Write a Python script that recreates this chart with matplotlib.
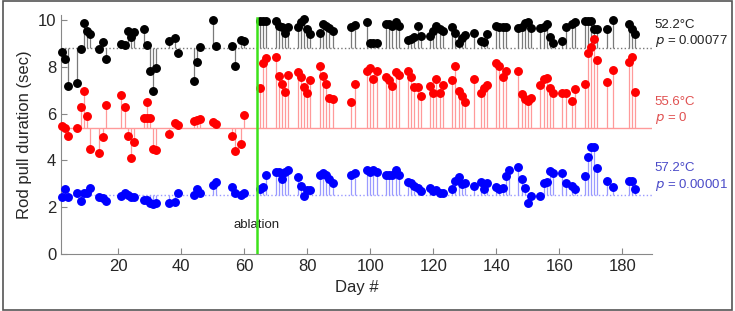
import matplotlib.pyplot as plt
from matplotlib.patches import Rectangle

# day numbers and rod pull duration (sec) for each temperature
black_days = [2, 3, 4, 7, 8, 9, 10, 11, 14, 15, 16, 21, 22, 23, 24, 25, 28, 29, 30, 31, 32, 36, 38, 39,
              44, 45, 46, 50, 51, 56, 57, 59, 60,
              65, 66, 67, 70, 71, 72, 73, 74, 77, 78, 79, 80, 81, 84, 85, 86, 87, 88, 94, 95, 99, 100,
              101, 102, 105, 106, 107, 108, 109, 112, 113, 114, 115, 116, 119, 120, 121, 122, 123, 126,
              127, 128, 129, 130, 133, 135, 136, 137, 140, 141, 142, 143, 147, 148, 149, 150, 151, 154,
              155, 156, 157, 158, 161, 162, 164, 165, 168, 169, 170, 171, 172, 175, 177, 182, 183, 184]
black_vals = [8.65, 8.32, 7.18, 7.29, 8.75, 9.86, 9.54, 9.40, 8.77, 9.05, 8.32, 8.96, 8.92, 9.53, 9.29,
              9.47, 9.60, 8.92, 7.82, 6.98, 7.93, 9.09, 9.23, 8.58, 7.41, 8.19, 8.83, 10.0, 8.89, 8.89,
              8.03, 9.15, 9.09,
              9.97, 9.97, 9.97, 9.97, 9.74, 9.69, 9.46, 9.69, 9.69, 9.93, 10.03, 9.60, 9.39, 9.43, 9.83,
              9.74, 9.64, 9.54, 9.69, 9.77, 9.91, 9.02, 9.02, 9.02, 9.83, 9.83, 9.76, 9.91, 9.76, 9.15,
              9.17, 9.26, 9.72, 9.32, 9.32, 9.54, 9.74, 9.60, 9.54, 9.69, 9.46, 9.03, 9.21, 9.36, 9.43,
              9.12, 9.07, 9.40, 9.74, 9.69, 9.69, 9.69, 9.64, 9.69, 9.88, 9.91, 9.64, 9.64, 9.69, 9.83,
              9.26, 9.03, 9.12, 9.69, 9.83, 9.91, 9.95, 9.97, 9.97, 9.60, 9.60, 9.60, 10.0, 9.83, 9.60,
              9.40]

red_days = [2, 3, 4, 7, 8, 9, 10, 11, 14, 15, 16, 21, 22, 23, 24, 25, 28, 29, 29, 30, 31, 32, 36, 38,
            39, 44, 45, 46, 50, 51, 56, 57, 59, 60,
            65, 66, 67, 70, 71, 72, 73, 74, 77, 78, 79, 80, 81, 84, 85, 86, 87, 88, 94, 95, 99, 100,
            101, 102, 105, 106, 107, 108, 109, 112, 113, 114, 115, 116, 119, 120, 121, 122, 123, 126,
            127, 128, 129, 130, 133, 135, 136, 137, 140, 141, 142, 143, 147, 148, 149, 150, 151, 154,
            155, 156, 157, 158, 161, 162, 164, 165, 168, 169, 170, 171, 172, 175, 177, 182, 183, 184]
red_vals = [5.47, 5.37, 5.04, 5.38, 6.27, 6.98, 5.91, 4.49, 4.30, 4.99, 6.35, 6.81, 6.27, 5.06, 4.09,
            4.80, 5.80, 6.50, 5.80, 5.80, 4.47, 4.44, 5.11, 5.58, 5.51, 5.70, 5.73, 5.78, 5.62, 5.55,
            5.04, 4.40, 4.70, 5.94,
            7.08, 8.15, 8.36, 8.40, 7.61, 7.26, 6.94, 7.65, 7.79, 7.55, 7.12, 6.89, 7.44, 8.05, 7.61,
            7.26, 6.65, 6.61, 6.51, 7.26, 7.83, 7.93, 7.46, 7.83, 7.55, 7.44, 7.18, 7.79, 7.65, 7.83,
            7.55, 7.12, 7.12, 6.75, 7.18, 6.89, 7.46, 6.89, 7.22, 7.44, 8.05, 6.98, 6.75, 6.51, 7.46,
            6.87, 7.08, 7.22, 8.18, 8.03, 7.55, 7.83, 7.83, 6.84, 6.61, 6.55, 6.65, 7.22, 7.46, 7.50,
            7.08, 6.89, 6.89, 6.87, 6.55, 7.04, 7.26, 8.58, 8.86, 9.17, 8.29, 7.36, 7.88, 8.22, 8.43,
            6.94]

blue_days = [2, 3, 4, 7, 8, 9, 10, 11, 14, 15, 16, 21, 22, 23, 24, 25, 28, 29, 30, 31, 32, 36, 38, 39,
             44, 45, 46, 50, 51, 56, 57, 59, 60,
             65, 66, 67, 70, 71, 72, 73, 74, 77, 78, 79, 80, 81, 84, 85, 86, 87, 88, 94, 95, 99, 100,
             101, 102, 105, 106, 107, 108, 109, 112, 113, 114, 115, 116, 119, 120, 121, 122, 123, 126,
             127, 128, 129, 130, 133, 135, 136, 137, 140, 141, 142, 143, 144, 147, 148, 149, 150, 151,
             154, 155, 156, 157, 158, 161, 162, 164, 165, 168, 169, 170, 171, 172, 175, 177, 182, 183,
             184]
blue_vals = [2.42, 2.76, 2.42, 2.62, 2.28, 2.62, 2.62, 2.81, 2.45, 2.38, 2.28, 2.48, 2.62, 2.52, 2.42,
             2.42, 2.31, 2.31, 2.19, 2.16, 2.19, 2.19, 2.21, 2.62, 2.52, 2.76, 2.62, 2.95, 3.09, 2.88,
             2.62, 2.52, 2.62,
             2.76, 2.86, 3.38, 3.52, 3.52, 3.19, 3.52, 3.59, 3.28, 2.91, 2.48, 2.74, 2.74, 3.38, 3.47,
             3.38, 3.19, 3.02, 3.38, 3.47, 3.59, 3.52, 3.59, 3.52, 3.38, 3.38, 3.38, 3.59, 3.38, 3.09,
             3.02, 2.91, 2.81, 2.71, 2.81, 2.71, 2.74, 2.62, 2.62, 2.76, 3.13, 3.30, 2.99, 3.02, 2.91,
             3.09, 2.76, 3.05, 2.85, 2.76, 2.81, 3.33, 3.59, 3.70, 3.19, 2.81, 2.19, 2.48, 2.48, 3.05,
             3.09, 3.56, 3.47, 3.47, 3.02, 2.91, 2.76, 3.33, 4.16, 4.59, 4.59, 3.66, 3.13, 2.85, 3.13,
             3.10, 2.76]

# baseline (pre-ablation mean) for each series
baselines = [8.78, 5.40, 2.53]
temps = ["52.2\u00b0C", "55.6\u00b0C", "57.2\u00b0C"]
pvals = ["0.00077", "0", "0.00001"]
ablation_day = 64

plt.rcParams['font.family'] = ['Liberation Sans', 'DejaVu Sans']

fig = plt.figure(figsize=(7.35, 3.11), dpi=100)
ax = fig.add_axes([0.083, 0.183, 0.804, 0.768])

series = [
    (black_days, black_vals, "black", "#7a7a7a", "#777777", ":", "#222222"),
    (red_days, red_vals, "#ff0000", "#ff9a9a", "#ff9a9a", "-", "#e05050"),
    (blue_days, blue_vals, "#0000ff", "#9a9aff", "#9a9aff", ":", "#4a4ac8"),
]
label_y = [(9.79, 9.12), (6.51, 5.83), (3.68, 2.97)]

for i, (d, v, mc, sc, bc, bls, tc) in enumerate(series):
    base = baselines[i]
    ax.axhline(base, color=bc, lw=1.0, ls=bls, zorder=1)
    ax.vlines(d, base, v, color=sc, lw=0.9, zorder=2)
    ax.plot(d, v, "o", color=mc, ms=5.4, zorder=3, clip_on=False)
    ax.text(1.005, label_y[i][0], temps[i], transform=ax.get_yaxis_transform(),
            color=tc, fontsize=9.5, va="center", ha="left")
    ax.text(1.005, label_y[i][1], r"$\it{p}$ = " + pvals[i], transform=ax.get_yaxis_transform(),
            color=tc, fontsize=9.5, va="center", ha="left")

ax.plot([ablation_day, ablation_day], [0, 10.1], color="#3de21a", lw=1.8, zorder=4)
ax.text(ablation_day, 1.25, "ablation", ha="center", va="center", fontsize=9.5, color="#222222")

ax.set_xlim(1.8, 189.4)
ax.set_ylim(0, 10.2)
ax.set_xticks([20, 40, 60, 80, 100, 120, 140, 160, 180])
ax.set_yticks([0, 2, 4, 6, 8, 10])
ax.spines["top"].set_visible(False)
ax.spines["right"].set_visible(False)
for s in ["left", "bottom"]:
    ax.spines[s].set_color("#888888")
ax.tick_params(direction="in", length=4, colors="#888888", labelcolor="#262626", labelsize=12)
ax.set_xlabel("Day #", fontsize=12, color="#262626")
ax.set_ylabel("Rod pull duration (sec)", fontsize=12, color="#262626")

fig.patches.append(Rectangle((0.004, 0.004), 0.992, 0.992, transform=fig.transFigure,
                             fill=False, edgecolor="#555555", lw=1.2))

fig.savefig("out.png", dpi=100)
